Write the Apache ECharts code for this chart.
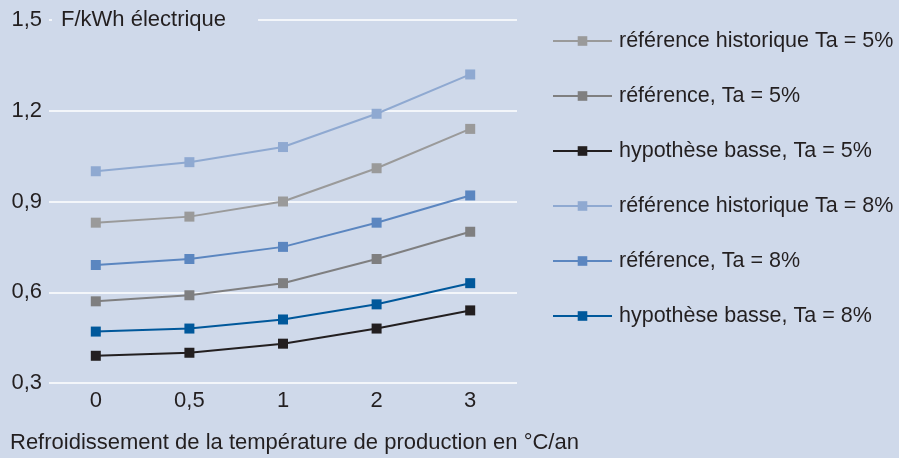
<!DOCTYPE html>
<html><head><meta charset="utf-8">
<script src="https://cdn.jsdelivr.net/npm/echarts@6/dist/echarts.min.js"></script>
<style>html,body{margin:0;padding:0;background:#cfd9ea}#c{width:899px;height:458px}</style>
</head><body><div id="c"></div>
<script>
const categories = ['0', '0,5', '1', '2', '3'];
const yTicks = [0.3, 0.6, 0.9, 1.2, 1.5];
const seriesNames = [
  'référence historique Ta = 5%',
  'référence, Ta = 5%',
  'hypothèse basse, Ta = 5%',
  'référence historique Ta = 8%',
  'référence, Ta = 8%',
  'hypothèse basse, Ta = 8%'
];
const refHist5 = [0.83, 0.85, 0.90, 1.01, 1.14];
const ref5 = [0.57, 0.59, 0.63, 0.71, 0.80];
const hypBasse5 = [0.39, 0.40, 0.43, 0.48, 0.54];
const refHist8 = [1.00, 1.03, 1.08, 1.19, 1.32];
const ref8 = [0.69, 0.71, 0.75, 0.83, 0.92];
const hypBasse8 = [0.47, 0.48, 0.51, 0.56, 0.63];
const values = [refHist5, ref5, hypBasse5, refHist8, ref8, hypBasse8];
const colors = ['#9a9a9a', '#7f7f80', '#231f20', '#8fa9d1', '#5b86c0', '#00589b'];
const bg = '#cfd9ea';
const txt = '#231f20';
const font = 'Liberation Sans, Arial, sans-serif';
const fs = 22;

const chart = echarts.init(document.getElementById('c'));
chart.setOption({
  backgroundColor: bg,
  animation: false,
  textStyle: { fontFamily: font, color: txt },
  title: {
    text: 'F/kWh électrique',
    left: 52, top: 8,
    backgroundColor: bg,
    padding: [0, 32, 0, 9],
    textStyle: { fontFamily: font, fontSize: fs, fontWeight: 'normal', color: txt, lineHeight: 24 }
  },
  legend: {
    orient: 'vertical',
    left: 547, top: 25,
    itemWidth: 59, itemHeight: 12,
    itemGap: 33,
    data: seriesNames,
    textStyle: { fontFamily: font, fontSize: 21.5, color: txt, lineHeight: 22, padding: [0, 0, 0, 2] }
  },
  grid: { left: 49, right: 382, top: 20, bottom: 75 },
  xAxis: {
    type: 'category',
    data: categories,
    boundaryGap: true,
    axisLine: { show: false },
    axisTick: { show: false },
    axisLabel: { fontFamily: font, fontSize: fs, color: txt, margin: 7 }
  },
  yAxis: {
    type: 'value',
    min: yTicks[0], max: yTicks[yTicks.length - 1], interval: 0.3,
    axisLine: { show: false },
    axisTick: { show: false },
    splitLine: { lineStyle: { color: '#ffffff', width: 1.5 } },
    axisLabel: {
      fontFamily: font, fontSize: fs, color: txt, margin: 7,
      formatter: v => v.toFixed(1).replace('.', ',')
    }
  },
  graphic: [{
    type: 'text', left: 10, top: 432,
    style: { text: 'Refroidissement de la température de production en °C/an', fontFamily: font, fontSize: fs, fill: txt }
  }],
  series: seriesNames.map((name, i) => ({
    name, type: 'line', data: values[i],
    symbol: 'rect', symbolSize: 10,
    lineStyle: { color: colors[i], width: 2 },
    itemStyle: { color: colors[i] },
    z: 10 - i
  }))
});
</script></body></html>
